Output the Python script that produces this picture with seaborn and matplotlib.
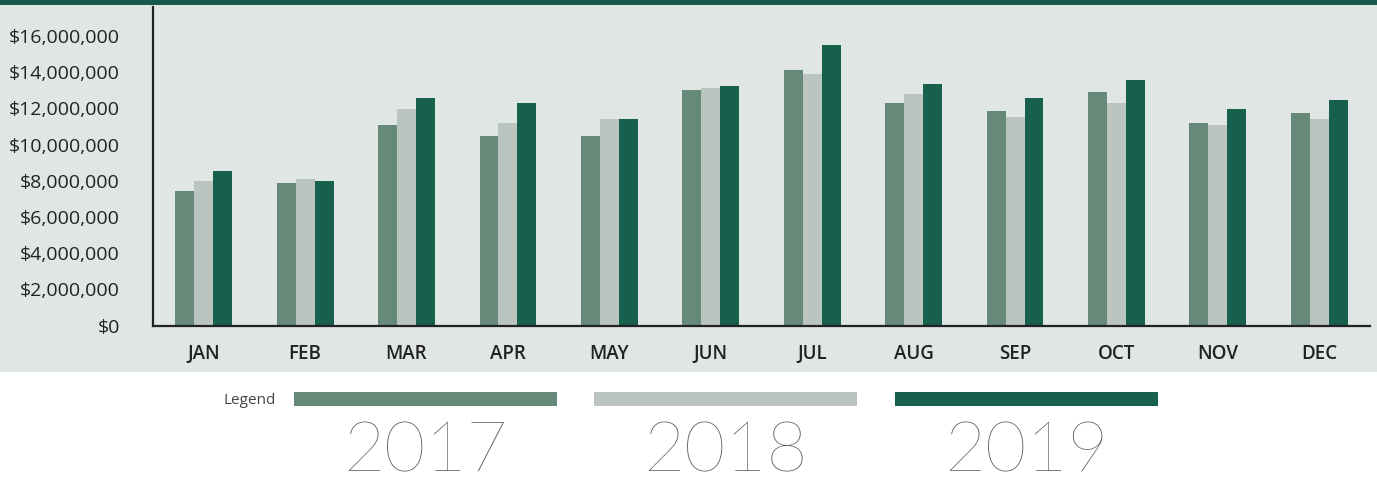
import matplotlib
matplotlib.use("Agg")
import matplotlib.pyplot as plt
from matplotlib.patches import Rectangle
from matplotlib.ticker import FuncFormatter, MultipleLocator
import seaborn as sns
import pandas as pd

months = ["JAN", "FEB", "MAR", "APR", "MAY", "JUN", "JUL", "AUG", "SEP", "OCT", "NOV", "DEC"]
years = ["2017", "2018", "2019"]
sales_2017 = [7.44e6, 7.89e6, 11.06e6, 10.5e6, 10.5e6, 13.0e6, 14.1e6, 12.28e6, 11.83e6, 12.89e6, 11.17e6, 11.72e6]
sales_2018 = [8.0e6, 8.11e6, 11.94e6, 11.17e6, 11.39e6, 13.11e6, 13.9e6, 12.78e6, 11.5e6, 12.28e6, 11.06e6, 11.39e6]
sales_2019 = [8.56e6, 8.0e6, 12.56e6, 12.28e6, 11.39e6, 13.22e6, 15.5e6, 13.33e6, 12.56e6, 13.56e6, 11.94e6, 12.44e6]
colors = ["#67897a", "#bac5c0", "#17604e"]

df = pd.DataFrame({
    "month": months * 3,
    "year": [y for y in years for _ in months],
    "sales": sales_2017 + sales_2018 + sales_2019,
})

sns.set_theme(style="white")
plt.rcParams["font.family"] = ["Open Sans", "DejaVu Sans"]

W, H = 1377, 479
fig = plt.figure(figsize=(W / 100, H / 100), dpi=100)
fig.patch.set_facecolor("white")
bg = "#e0e6e4"
fig.patches.append(Rectangle((0, 1 - 372 / H), 1, (372 - 5) / H, transform=fig.transFigure,
                             facecolor=bg, edgecolor="none", zorder=-2))
fig.patches.append(Rectangle((0, 1 - 5 / H), 1, 5 / H, transform=fig.transFigure,
                             facecolor="#17594a", edgecolor="none", zorder=-2))

ax = fig.add_axes([153 / W, 1 - 325.7 / H, (1370 - 153) / W, (325.7 - 7) / H])
ax.set_zorder(2)
ax.patch.set_alpha(0)
sns.barplot(data=df, x="month", y="sales", hue="year", palette=colors, width=0.56,
            saturation=1, legend=False, ax=ax, order=months, hue_order=years,
            linewidth=0, edgecolor="none")
ax.set_xlim(-0.5, 11.5)
ax.set_ylim(0, 17.6e6)
ax.yaxis.set_major_locator(MultipleLocator(2e6))
ax.yaxis.set_major_formatter(FuncFormatter(lambda v, p: f"${v:,.0f}"))
ax.set_xlabel("")
ax.set_ylabel("")
for s in ["top", "right"]:
    ax.spines[s].set_visible(False)
for s in ["left", "bottom"]:
    ax.spines[s].set_color("#222222")
    ax.spines[s].set_linewidth(1.6)
ax.tick_params(axis="y", length=0, pad=24, labelsize=14, labelcolor="#222222")
ax.tick_params(axis="x", length=0, pad=13, labelsize=13.5, labelcolor="#222222")
for lab in ax.get_yticklabels():
    lab.set_fontweight("medium")
for lab in ax.get_xticklabels():
    lab.set_fontweight("semibold")

# legend
fig.text(276 / W, 1 - 400 / H, "Legend", ha="right", va="center", fontsize=11, color="#444444")
bars = [(294, 557), (594, 857), (895, 1158)]
for (x0, x1), c, y in zip(bars, colors, years):
    fig.patches.append(Rectangle((x0 / W, 1 - 405.5 / H), (x1 - x0) / W, 13.5 / H,
                                 transform=fig.transFigure, facecolor=c, edgecolor="none"))
    fig.text((x0 + x1) / 2 / W, 1 - 472 / H, y, ha="center", va="baseline", fontsize=51,
             fontweight="light", family=["Lato", "DejaVu Sans"], color="#555555")

fig.savefig("out.png", dpi=100, facecolor=fig.get_facecolor())
